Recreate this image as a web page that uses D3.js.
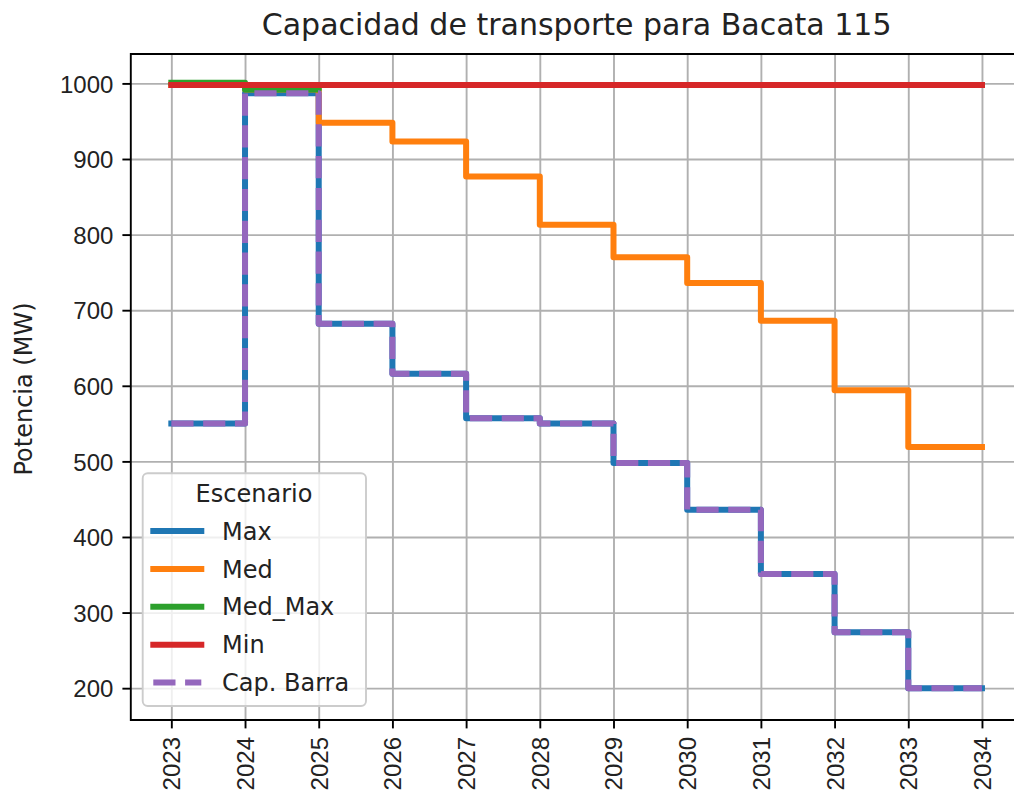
<!DOCTYPE html>
<html>
<head>
<meta charset="utf-8">
<script src="https://cdn.jsdelivr.net/npm/d3@7"></script>
<style>
  body { margin: 0; background: #fff; }
  svg { font-family: "DejaVu Sans", sans-serif; display: block; }
</style>
</head>
<body>
<div id="chart"></div>
<script>
// data
var years = [2023, 2024, 2025, 2026, 2027, 2028, 2029, 2030, 2031, 2032, 2033, 2034];
var maxVals    = [550, 987, 682, 616, 557, 550, 498, 436, 351, 274, 200, 200];
var medVals    = [998, 992, 948, 923, 877, 813, 770, 736, 686, 594, 519, 519];
var medMaxVals = [1001, 992, 998, 998, 998, 998, 998, 998, 998, 998, 998, 998];
var minVals    = [998, 998, 998, 998, 998, 998, 998, 998, 998, 998, 998, 998];
var capBarra   = [550, 987, 682, 616, 557, 550, 498, 436, 351, 274, 200, 200];
var yTicks = [200, 300, 400, 500, 600, 700, 800, 900, 1000];

var seriesNames = ["Max", "Med", "Med_Max", "Min", "Cap. Barra"];
var seriesVals = [maxVals, medVals, medMaxVals, minVals, capBarra];
var colors = ["#1f77b4", "#ff7f0e", "#2ca02c", "#d62728", "#9467bd"];

var W = 1014, H = 801;
var frame = {left: 130.8, right: 1022.5, top: 54, bottom: 720};

var svg = d3.select("#chart")
  .append("svg")
  .attr("width", W)
  .attr("height", H);

var x = d3.scaleLinear()
  .domain([2022.45, 2034.55])
  .range([frame.left, frame.right]);

var y = d3.scaleLinear()
  .domain([157.9, 1038.9])
  .range([frame.bottom, frame.top]);

// grid
svg.append("g")
  .attr("transform", "translate(0," + frame.bottom + ")")
  .call(d3.axisBottom(x).tickValues(years).tickSize(-(frame.bottom - frame.top)).tickFormat(""))
  .call(function(g) { g.select(".domain").remove(); })
  .selectAll("line").attr("stroke", "#b0b0b0").attr("stroke-width", 1.9);

svg.append("g")
  .attr("transform", "translate(" + frame.left + ",0)")
  .call(d3.axisLeft(y).tickValues(yTicks).tickSize(-(frame.right - frame.left)).tickFormat(""))
  .call(function(g) { g.select(".domain").remove(); })
  .selectAll("line").attr("stroke", "#b0b0b0").attr("stroke-width", 1.9);

// step lines
var line = d3.line()
  .curve(d3.curveStepAfter)
  .x(function(d, i) { return x(years[i]); })
  .y(function(d) { return y(d); });

seriesVals.forEach(function(vals, i) {
  var dashed = i === 4;
  svg.append("path")
    .datum(vals)
    .attr("fill", "none")
    .attr("stroke", colors[i])
    .attr("stroke-width", 6)
    .attr("stroke-linejoin", "round")
    .attr("stroke-linecap", dashed ? "butt" : "square")
    .attr("stroke-dasharray", dashed ? "22.2,9.6" : null)
    .attr("d", line);
});

// axes
var xAxis = svg.append("g")
  .attr("transform", "translate(0," + frame.bottom + ")")
  .call(d3.axisBottom(x).tickValues(years).tickFormat(d3.format("d")).tickSize(8.4).tickPadding(8.4));
xAxis.select(".domain").remove();
xAxis.selectAll("line").attr("stroke", "#000").attr("stroke-width", 1.9);
xAxis.selectAll("text")
  .attr("font-size", 24)
  .attr("fill", "#222")
  .attr("text-anchor", "end")
  .attr("dy", null)
  .attr("y", 0)
  .attr("transform", "translate(8.5,17) rotate(-90)");

var yAxis = svg.append("g")
  .attr("transform", "translate(" + frame.left + ",0)")
  .call(d3.axisLeft(y).tickValues(yTicks).tickFormat(d3.format("d")).tickSize(8.4).tickPadding(9));
yAxis.select(".domain").remove();
yAxis.selectAll("line").attr("stroke", "#000").attr("stroke-width", 1.9);
yAxis.selectAll("text").attr("font-size", 24).attr("fill", "#222").attr("dy", "0.36em");

// spines
svg.append("path")
  .attr("d", "M" + frame.right + "," + frame.top + "H" + frame.left + "V" + frame.bottom + "H" + frame.right)
  .attr("fill", "none")
  .attr("stroke", "#000")
  .attr("stroke-width", 1.9);

// title and y label
svg.append("text")
  .attr("x", (frame.left + frame.right) / 2)
  .attr("y", 35)
  .attr("text-anchor", "middle")
  .attr("font-size", 30)
  .attr("fill", "#222")
  .text("Capacidad de transporte para Bacata 115");

svg.append("text")
  .attr("transform", "translate(31.5,389) rotate(-90)")
  .attr("text-anchor", "middle")
  .attr("font-size", 24)
  .attr("fill", "#222")
  .text("Potencia (MW)");

// legend
var lg = svg.append("g");
lg.append("rect")
  .attr("x", 142.7).attr("y", 473.3)
  .attr("width", 223.3).attr("height", 232.7)
  .attr("rx", 5)
  .attr("fill", "#fff").attr("fill-opacity", 0.8)
  .attr("stroke", "#cccccc").attr("stroke-width", 1.9);

lg.append("text")
  .attr("x", 254).attr("y", 502)
  .attr("text-anchor", "middle")
  .attr("font-size", 24)
  .attr("fill", "#222")
  .text("Escenario");

seriesNames.forEach(function(name, i) {
  var cy = 531 + i * 37.9;
  var dashed = i === 4;
  lg.append("line")
    .attr("x1", 153.3).attr("x2", 201.3)
    .attr("y1", cy).attr("y2", cy)
    .attr("stroke", colors[i])
    .attr("stroke-width", 6)
    .attr("stroke-linecap", dashed ? "butt" : "square")
    .attr("stroke-dasharray", dashed ? "22.2,9.6" : null);
  lg.append("text")
    .attr("x", 222)
    .attr("y", cy)
    .attr("dy", "0.36em")
    .attr("font-size", 24)
    .attr("fill", "#222")
    .text(name);
});
</script>
</body>
</html>
